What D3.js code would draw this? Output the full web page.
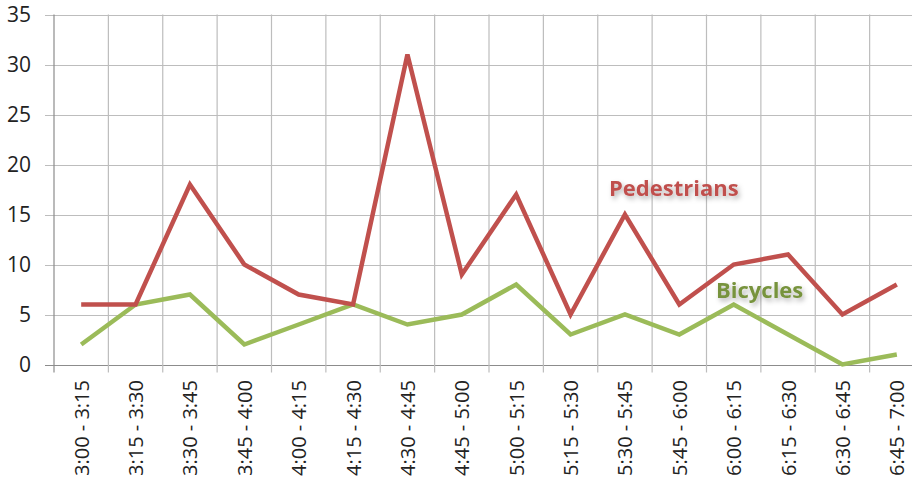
<!DOCTYPE html>
<html><head><meta charset="utf-8">
<script src="https://cdn.jsdelivr.net/npm/d3@7"></script>
<style>body{margin:0;background:#fff;overflow:hidden}</style>
</head><body>
<svg id="c" width="912" height="485"></svg>
<script>
const categories = ["3:00 - 3:15","3:15 - 3:30","3:30 - 3:45","3:45 - 4:00","4:00 - 4:15","4:15 - 4:30","4:30 - 4:45","4:45 - 5:00","5:00 - 5:15","5:15 - 5:30","5:30 - 5:45","5:45 - 6:00","6:00 - 6:15","6:15 - 6:30","6:30 - 6:45","6:45 - 7:00"];
const pedestrians = [6,6,18,10,7,6,31,9,17,5,15,6,10,11,5,8];
const bicycles = [2,6,7,2,4,6,4,5,8,3,5,3,6,3,0,1];
const yTicks = [0,5,10,15,20,25,30,35];

const svg = d3.select("#c");
const L = 54, R = 924, T = 14.5, B = 364.5;
const x = d3.scaleBand().domain(categories).range([L, R]);
const y = d3.scaleLinear().domain([0,35]).range([B, T]);
const font = "'Open Sans', 'DejaVu Sans', sans-serif";

const defs = svg.append("defs");
const f = defs.append("filter").attr("id","sh").attr("x","-20%").attr("y","-40%").attr("width","140%").attr("height","180%");
f.append("feDropShadow").attr("dx",2).attr("dy",3).attr("stdDeviation",2.5).attr("flood-color","#000").attr("flood-opacity",0.3);

// horizontal grid
svg.append("g").selectAll("line").data(yTicks).join("line")
  .attr("x1", L-9).attr("x2", R).attr("y1", d=>Math.round(y(d))+0.5).attr("y2", d=>Math.round(y(d))+0.5)
  .attr("stroke", d=> d===0 ? "#8c8c8c" : "#bdbdbd").attr("stroke-width",1.2);
// vertical grid at band boundaries
const bounds = categories.map(c=>x(c)).concat([R]);
svg.append("g").selectAll("line").data(bounds).join("line")
  .attr("x1", d=>d).attr("x2", d=>d).attr("y1", T).attr("y2", B+8)
  .attr("stroke", (d,i)=> i===0 ? "#8c8c8c" : "#bdbdbd").attr("stroke-width",1.2);

// y labels
svg.append("g").selectAll("text").data(yTicks).join("text")
  .attr("x", 31).attr("y", d=>y(d)).attr("dy","0.35em").attr("text-anchor","end")
  .attr("font-family", font).attr("font-size", 21).attr("fill","#222").text(d=>d);

// x labels
svg.append("g").selectAll("text").data(categories).join("text")
  .attr("transform", d=>`translate(${x(d)+x.bandwidth()/2+7.5},380) rotate(-90)`)
  .attr("text-anchor","end").attr("font-family", font).attr("font-size", 20).attr("fill","#222").text(d=>d);

const line = d3.line().x((d,i)=>x(categories[i])+x.bandwidth()/2).y(d=>y(d));
svg.append("path").datum(bicycles).attr("d", line).attr("fill","none")
  .attr("stroke","#9bbb59").attr("stroke-width",4.5).attr("stroke-linejoin","miter");
svg.append("path").datum(pedestrians).attr("d", line).attr("fill","none")
  .attr("stroke","#c0504d").attr("stroke-width",4.5).attr("stroke-linejoin","miter");

svg.append("text").attr("x",609).attr("y",196).attr("font-family",font).attr("font-weight","bold")
  .attr("font-size",22).attr("fill","#c0504d").attr("filter","url(#sh)").text("Pedestrians");
svg.append("text").attr("x",716).attr("y",298).attr("font-family",font).attr("font-weight","bold")
  .attr("font-size",22).attr("fill","#77933c").attr("filter","url(#sh)").text("Bicycles");
</script>
</body></html>
